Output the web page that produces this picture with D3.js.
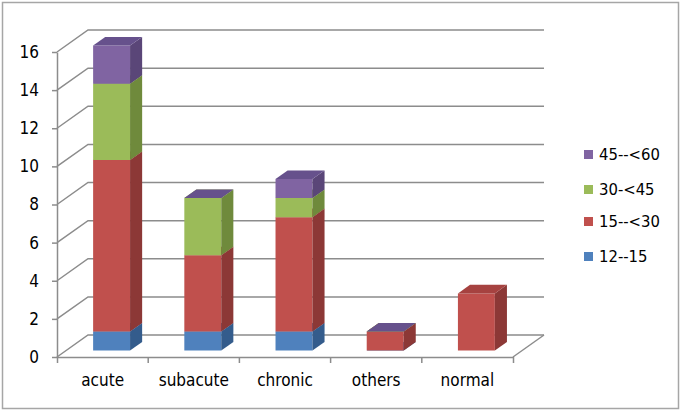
<!DOCTYPE html>
<html>
<head>
<meta charset="utf-8">
<script src="https://cdn.jsdelivr.net/npm/d3@7"></script>
<style>
  body { margin: 0; background: #fff; }
  text { font-family: "DejaVu Sans Condensed", "DejaVu Sans", sans-serif; font-stretch: condensed; }
</style>
</head>
<body>
<div id="chart"></div>
<script>
const categories = ["acute", "subacute", "chronic", "others", "normal"];
const seriesNames = ["12--15", "15--<30", "30-<45", "45--<60"];
const s12_15  = [1, 1, 1, 0, null];
const s15_30  = [9, 4, 6, 1, 3];
const s30_45  = [4, 3, 1, 0, null];
const s45_60  = [2, 0, 1, 0, null];
const yTicks = [0, 2, 4, 6, 8, 10, 12, 14, 16];

const series = [s12_15, s15_30, s30_45, s45_60];
const colors = [
  {front: "#4f81bd", side: "#345c8c", top: "#4270a8"},
  {front: "#c0504d", side: "#8c3836", top: "#a64240"},
  {front: "#9bbb59", side: "#6f8a3c", top: "#85a249"},
  {front: "#8064a2", side: "#5a4678", top: "#66518c"}
];

const W = 684, H = 412;
const svg = d3.select("#chart").append("svg")
  .attr("width", W).attr("height", H);

// outer frame
svg.append("rect")
  .attr("x", 2.5).attr("y", 2.5)
  .attr("width", 676).attr("height", 406)
  .attr("fill", "white").attr("stroke", "#a6a6a6").attr("stroke-width", 1.5);

const x = d3.scaleBand().domain(categories).range([57, 513]);
const y = d3.scaleLinear().domain([0, 16]).range([357, 52]);
const depth = {dx: 31, dy: -22};
const f0 = 0.29, f1 = 0.68;
const barW = x.bandwidth() * 0.405;

const P = (px, v, f) => [px + f * depth.dx, y(v) + f * depth.dy];
const grid = "#8c8c8c";

// back wall + side wall gridlines
svg.append("g").selectAll("path")
  .data(yTicks)
  .join("path")
    .attr("d", d => {
      const a = [57, y(d)], b = P(57, d, 1), c = P(513, d, 1);
      return "M" + a + "L" + b + "L" + c;
    })
    .attr("fill", "none")
    .attr("stroke", grid)
    .attr("stroke-width", 1.5);

// right floor edge
svg.append("path")
  .attr("d", "M" + [513, y(0)] + "L" + P(513, 0, 1))
  .attr("stroke", grid).attr("stroke-width", 1.5).attr("fill", "none");

// y axis
const gY = svg.append("g")
  .attr("transform", "translate(57,0)")
  .call(d3.axisLeft(y).tickValues(yTicks).tickSize(5).tickSizeOuter(0).tickPadding(13));
gY.selectAll("path,line").attr("stroke", grid).attr("stroke-width", 1.5);
gY.selectAll("text").style("font-size", "17px").attr("fill", "#000");

// x axis
const gX = svg.append("g")
  .attr("transform", "translate(0," + y(0) + ")")
  .call(d3.axisBottom(x).tickSize(0).tickSizeOuter(6).tickPadding(17));
gX.select(".domain").attr("stroke", grid).attr("stroke-width", 1.5);
gX.selectAll("text").style("font-size", "17px").attr("fill", "#000");
gX.selectAll("line.sep")
  .data(categories.slice(1))
  .join("line")
    .attr("class", "sep")
    .attr("x1", d => x(d)).attr("x2", d => x(d))
    .attr("y1", 0).attr("y2", 6)
    .attr("stroke", grid).attr("stroke-width", 1.5);

// bars
const bars = svg.append("g");
categories.forEach((cat, i) => {
  const x0 = x(cat) + (x.bandwidth() - barW) / 2;
  let base = 0;
  series.forEach((s, k) => {
    const v = s[i];
    if (v === null) return;
    const lo = base, hi = base + v;
    base = hi;
    const c = colors[k];
    const poly = pts => "M" + pts.join("L") + "Z";
    if (v > 0) {
      bars.append("path")
        .attr("d", poly([P(x0, lo, f0), P(x0 + barW, lo, f0), P(x0 + barW, hi, f0), P(x0, hi, f0)]))
        .attr("fill", c.front);
      bars.append("path")
        .attr("d", poly([P(x0 + barW, lo, f0), P(x0 + barW, lo, f1), P(x0 + barW, hi, f1), P(x0 + barW, hi, f0)]))
        .attr("fill", c.side);
    }
    bars.append("path")
      .attr("d", poly([P(x0, hi, f0), P(x0 + barW, hi, f0), P(x0 + barW, hi, f1), P(x0, hi, f1)]))
      .attr("fill", c.top);
  });
});

// legend
const legendY = [256.5, 221.5, 189.5, 154.5];
const legend = svg.append("g");
seriesNames.forEach((name, k) => {
  legend.append("rect")
    .attr("x", 584).attr("y", legendY[k] - 4.5)
    .attr("width", 9).attr("height", 9)
    .attr("fill", colors[k].front);
  legend.append("text")
    .attr("x", 599).attr("y", legendY[k])
    .attr("dy", "0.35em")
    .style("font-size", "16.5px")
    .text(name);
});
</script>
</body>
</html>
